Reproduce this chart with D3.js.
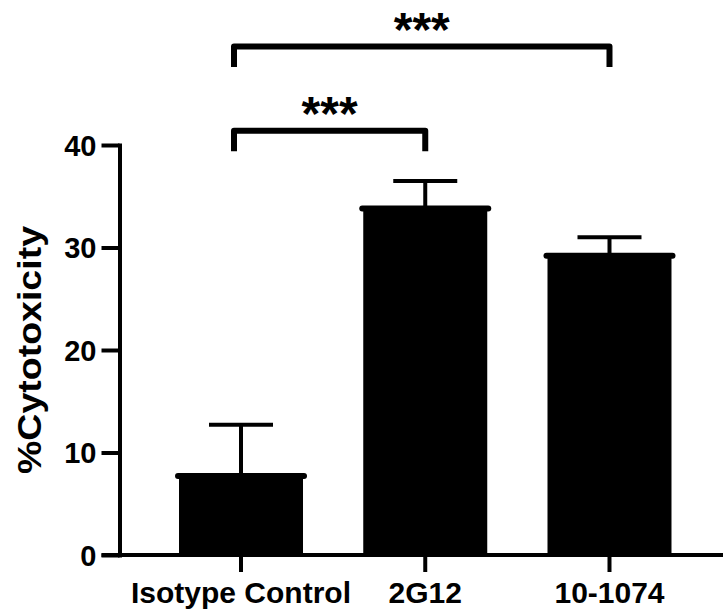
<!DOCTYPE html>
<html>
<head>
<meta charset="utf-8">
<script src="https://cdn.jsdelivr.net/npm/d3@7"></script>
<style>
    body { margin: 0; background: #ffffff; }
    text { font-family: "Liberation Sans", Arial, sans-serif; font-weight: bold; fill: #000000; }
</style>
</head>
<body>
<div id="chart"></div>
<script>
const categories = ['Isotype Control', '2G12', '10-1074'];
const meanValues = [7.7, 33.8, 29.2];
const sdValues = [5.0, 2.7, 1.8];
const yTicks = [0, 10, 20, 30, 40];
const comparisons = [
    {from: 0, to: 1, label: '***'},
    {from: 0, to: 2, label: '***'}
];

function main() {
    const svgWidth = 723;
    const svgHeight = 613;

    const svg = d3.select('#chart').append('svg')
        .attr('width', svgWidth)
        .attr('height', svgHeight)
        .style('display', 'block');

    const axisX = 119.5;

    const yScale = d3.scaleLinear()
        .domain([0, 40])
        .range([555, 145]);

    const xScale = d3.scaleBand()
        .domain(categories)
        .range([axisX, 731])
        .paddingInner(0.327)
        .paddingOuter(0.323);

    const data = categories.map((c, i) => ({name: c, mean: meanValues[i], sd: sdValues[i]}));

    // bars
    svg.selectAll('.bar')
        .data(data)
        .enter()
        .append('rect')
        .attr('class', 'bar')
        .attr('x', d => xScale(d.name))
        .attr('y', d => yScale(d.mean))
        .attr('width', xScale.bandwidth())
        .attr('height', d => yScale(0) - yScale(d.mean))
        .attr('fill', '#000000');

    svg.selectAll('.bar-top')
        .data(data)
        .enter()
        .append('line')
        .attr('class', 'bar-top')
        .attr('x1', d => xScale(d.name) - 1)
        .attr('x2', d => xScale(d.name) + xScale.bandwidth() + 1)
        .attr('y1', d => yScale(d.mean))
        .attr('y2', d => yScale(d.mean))
        .attr('stroke', '#000000')
        .attr('stroke-width', 6)
        .attr('stroke-linecap', 'round');

    // error bars
    const capHalf = 32;
    const errG = svg.selectAll('.err')
        .data(data)
        .enter()
        .append('g')
        .attr('class', 'err');

    errG.append('line')
        .attr('x1', d => xScale(d.name) + xScale.bandwidth() / 2)
        .attr('x2', d => xScale(d.name) + xScale.bandwidth() / 2)
        .attr('y1', d => yScale(d.mean))
        .attr('y2', d => yScale(d.mean + d.sd))
        .attr('stroke', '#000000')
        .attr('stroke-width', 4);

    errG.append('line')
        .attr('x1', d => xScale(d.name) + xScale.bandwidth() / 2 - capHalf)
        .attr('x2', d => xScale(d.name) + xScale.bandwidth() / 2 + capHalf)
        .attr('y1', d => yScale(d.mean + d.sd))
        .attr('y2', d => yScale(d.mean + d.sd))
        .attr('stroke', '#000000')
        .attr('stroke-width', 4);

    // y axis
    const yAxis = svg.append('g')
        .attr('transform', `translate(${axisX},0)`)
        .call(d3.axisLeft(yScale).tickValues(yTicks).tickSize(18).tickSizeOuter(0).tickPadding(5));

    yAxis.select('.domain')
        .attr('stroke', '#000000')
        .attr('stroke-width', 4)
        .attr('stroke-linecap', 'square');
    yAxis.selectAll('.tick line')
        .attr('stroke', '#000000')
        .attr('stroke-width', 4);
    yAxis.selectAll('.tick text')
        .style('font-size', '29px')
        .attr('dy', '0.36em');

    // x axis
    svg.append('line')
        .attr('x1', axisX - 18)
        .attr('x2', svgWidth)
        .attr('y1', yScale(0))
        .attr('y2', yScale(0))
        .attr('stroke', '#000000')
        .attr('stroke-width', 4);

    const xAxis = svg.append('g')
        .attr('transform', `translate(0,${yScale(0)})`)
        .call(d3.axisBottom(xScale).tickSize(17).tickSizeOuter(0).tickPadding(10));

    xAxis.select('.domain').remove();
    xAxis.selectAll('.tick line')
        .attr('stroke', '#000000')
        .attr('stroke-width', 4);
    xAxis.selectAll('.tick text')
        .style('font-size', '30px');

    // y axis title
    svg.append('text')
        .attr('transform', `translate(41,${(yScale(0) + yScale(40)) / 2}) rotate(-90)`)
        .attr('text-anchor', 'middle')
        .style('font-size', '34px')
        .attr('textLength', 248)
        .attr('lengthAdjust', 'spacingAndGlyphs')
        .text('%Cytotoxicity');

    // significance brackets
    const levels = [41.4, 49.6];
    const armDrop = 2.0;
    comparisons.forEach((c, i) => {
        const x1 = xScale(categories[c.from]) + xScale.bandwidth() / 2 - 7;
        const x2 = xScale(categories[c.to]) + xScale.bandwidth() / 2;
        const yTop = yScale(levels[i]);
        const yArm = yScale(levels[i] - armDrop);
        svg.append('path')
            .attr('d', `M${x1},${yArm}V${yTop}H${x2}V${yArm}`)
            .attr('fill', 'none')
            .attr('stroke', '#000000')
            .attr('stroke-width', 6)
            .attr('stroke-linejoin', 'round');
        svg.append('text')
            .attr('x', (x1 + x2) / 2)
            .attr('y', yTop - 1)
            .attr('text-anchor', 'middle')
            .style('font-size', '48px')
            .text(c.label);
    });
}

main();
</script>
</body>
</html>
